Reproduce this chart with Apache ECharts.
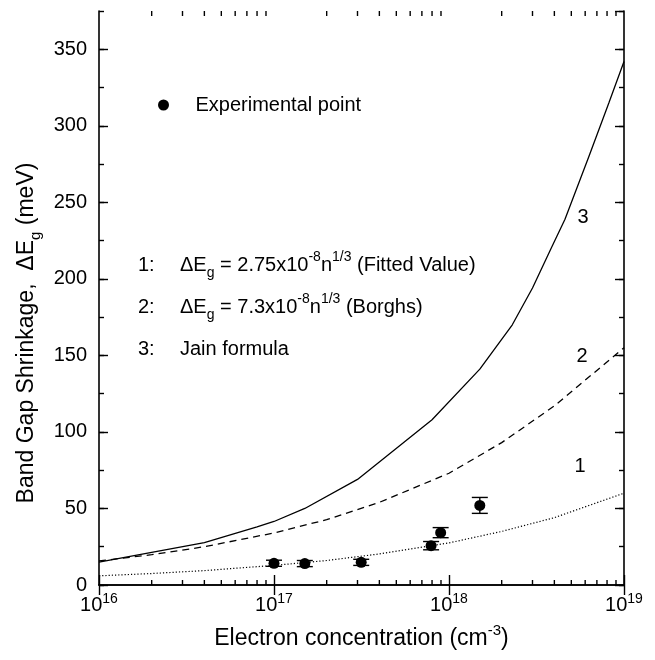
<!DOCTYPE html>
<html>
<head>
<meta charset="utf-8">
<script src="https://cdn.jsdelivr.net/npm/echarts@6/dist/echarts.min.js"></script>
<style>
  html, body { margin: 0; padding: 0; background: #fff; }
  #bgs { width: 655px; height: 660px; }
</style>
</head>
<body>
<div id="bgs"></div>
<script>
// band gap shrinkage vs electron concentration
var FONT = 'Liberation Sans';
var Y_MIN = 0, Y_MAX = 375;

// curve 1: fitted value
var fitConc = [1e16, 2e16, 4e16, 1e17, 2e17, 4e17, 1e18, 2e18, 4e18, 1e19];
var fitShrink = [6, 7.5, 9.4, 12.8, 16, 20.3, 27.5, 35, 44, 60];

// curve 2: Borghs
var borghsConc = [1e16, 2e16, 4e16, 1e17, 2e17, 4e17, 1e18, 2e18, 4e18, 1e19];
var borghsShrink = [15.7, 19.8, 25, 34, 42.7, 54, 73, 93, 117, 155];

// curve 3: Jain formula
var jainConc = [1e16, 4e16, 8e16, 1e17, 1.5e17, 3e17, 8e17, 1.5e18, 2.3e18, 3e18, 3.8e18, 4.6e18, 6.3e18, 8.2e18, 1e19];
var jainShrink = [15, 27.7, 38, 41.5, 50, 69, 108, 141, 170, 194, 219, 239, 280, 315, 342];

// experimental points with error
var expConc = [1e17, 1.5e17, 3.15e17, 7.9e17, 8.96e17, 1.5e18];
var expShrink = [14.2, 14, 14.8, 25.7, 34.2, 52];
var expErr = [2, 2, 2, 2.7, 3.3, 5.2];

// minor ticks on log axis (2..9 in every decade)
var decades = [1e16, 1e17, 1e18];
var minorX = [];
decades.forEach(function (d) {
  for (var k = 2; k <= 9; k++) minorX.push([k * d, 0]);
});

function pairs(xs, ys) {
  return xs.map(function (x, i) { return [x, ys[i]]; });
}

var chart = echarts.init(document.getElementById('bgs'));

var supRich = {
  sup: { fontSize: 14, fontFamily: FONT, color: '#000', fill: '#000', lineHeight: 14, verticalAlign: 'top' },
  sub: { fontSize: 14, fontFamily: FONT, color: '#000', fill: '#000', lineHeight: 14, verticalAlign: 'bottom' }
};

function yAx(pos, interval, len, show) {
  return {
    type: 'value',
    position: pos,
    min: Y_MIN,
    max: Y_MAX,
    interval: interval,
    axisLine: { show: show, lineStyle: { color: '#000', width: 1.6 } },
    axisTick: { inside: true, length: len, lineStyle: { color: '#000', width: 1.4 } },
    axisLabel: { show: false },
    splitLine: { show: false }
  };
}

var leftMain = yAx('left', 50, 9, true);
leftMain.axisLabel = {
  show: true, showMaxLabel: false, margin: 12,
  fontSize: 20, fontFamily: FONT, color: '#000'
};

function txt(x, y, s, align) {
  return {
    type: 'text', x: x, y: y,
    style: {
      text: s, font: '20px ' + FONT, fill: '#000', lineHeight: 30,
      textAlign: align || 'left', textVerticalAlign: 'middle', rich: supRich
    }
  };
}

var option = {
  animation: false,
  backgroundColor: '#fff',
  grid: { left: 99, right: 31, top: 11, bottom: 75 },
  legend: {
    data: ['Experimental point'],
    left: 153,
    top: 90,
    icon: 'circle',
    itemWidth: 30,
    itemHeight: 11,
    itemStyle: { color: '#000', opacity: 1 },
    textStyle: { fontSize: 20, fontFamily: FONT, color: '#000', padding: [0, 0, 0, 12] }
  },
  xAxis: [
    {
      type: 'log',
      logBase: 10,
      min: 1e16,
      max: 1e19,
      position: 'bottom',
      name: 'Electron concentration (cm{sup|-3})',
      nameLocation: 'middle',
      nameGap: 36,
      nameTextStyle: {
        fontSize: 23, fontFamily: FONT, color: '#000', lineHeight: 32,
        rich: { sup: { fontSize: 15, fontFamily: FONT, color: '#000', lineHeight: 15, verticalAlign: 'top' } }
      },
      axisLine: { lineStyle: { color: '#000', width: 1.6 } },
      axisTick: { inside: true, length: 10, lineStyle: { color: '#000', width: 1.4 } },
      axisLabel: {
        margin: 7,
        fontSize: 20, fontFamily: FONT, color: '#000', lineHeight: 26,
        formatter: function (v) {
          return '10{sup|' + Math.round(Math.log10(v)) + '}';
        },
        rich: supRich
      },
      splitLine: { show: false }
    },
    {
      type: 'log',
      logBase: 10,
      min: 1e16,
      max: 1e19,
      position: 'top',
      axisLine: { lineStyle: { color: '#000', width: 1.6 } },
      axisTick: { inside: true, length: 10, lineStyle: { color: '#000', width: 1.4 } },
      axisLabel: { show: false },
      splitLine: { show: false }
    }
  ],
  yAxis: [
    leftMain,
    yAx('left', 25, 5, false),
    yAx('right', 50, 9, true),
    yAx('right', 25, 5, false)
  ],
  graphic: [
    {
      type: 'text', x: 27, y: 333, rotation: Math.PI / 2,
      style: {
        text: 'Band Gap Shrinkage,  \u0394E{sub|g} (meV)',
        font: '23px ' + FONT, fill: '#000', lineHeight: 32,
        textAlign: 'center', textVerticalAlign: 'middle',
        rich: { sub: { fontSize: 15, fontFamily: FONT, fill: '#000', lineHeight: 15, verticalAlign: 'bottom' } }
      }
    },
    txt(138, 265, '1:'),
    txt(180, 265, '\u0394E{sub|g} = 2.75x10{sup|-8}n{sup|1/3} (Fitted Value)'),
    txt(138, 307, '2:'),
    txt(180, 307, '\u0394E{sub|g} = 7.3x10{sup|-8}n{sup|1/3} (Borghs)'),
    txt(138, 349, '3:'),
    txt(180, 349, 'Jain formula'),
    txt(583, 217, '3', 'center'),
    txt(582, 356, '2', 'center'),
    txt(580, 466, '1', 'center')
  ],
  series: [
    {
      name: '1',
      type: 'line',
      data: pairs(fitConc, fitShrink),
      symbol: 'none',
      lineStyle: { color: '#000', width: 1.2, type: [1.2, 2] }
    },
    {
      name: '2',
      type: 'line',
      data: pairs(borghsConc, borghsShrink),
      symbol: 'none',
      lineStyle: { color: '#000', width: 1.3, type: [7, 5] }
    },
    {
      name: '3',
      type: 'line',
      data: pairs(jainConc, jainShrink),
      symbol: 'none',
      lineStyle: { color: '#000', width: 1.3 }
    },
    {
      name: 'error',
      type: 'custom',
      silent: true,
      data: expConc.map(function (x, i) { return [x, expShrink[i], expErr[i]]; }),
      encode: { x: 0, y: 1 },
      renderItem: function (params, api) {
        var x = api.value(0), y = api.value(1), e = api.value(2);
        var lo = api.coord([x, y - e]);
        var hi = api.coord([x, y + e]);
        var w = 8;
        var st = { stroke: '#000', lineWidth: 1.4 };
        return {
          type: 'group',
          children: [
            { type: 'line', shape: { x1: lo[0], y1: lo[1], x2: hi[0], y2: hi[1] }, style: st },
            { type: 'line', shape: { x1: lo[0] - w, y1: lo[1], x2: lo[0] + w, y2: lo[1] }, style: st },
            { type: 'line', shape: { x1: hi[0] - w, y1: hi[1], x2: hi[0] + w, y2: hi[1] }, style: st }
          ]
        };
      }
    },
    {
      name: 'Experimental point',
      type: 'scatter',
      data: pairs(expConc, expShrink),
      symbol: 'circle',
      symbolSize: 11,
      itemStyle: { color: '#000', opacity: 1 }
    },
    {
      name: 'minor',
      type: 'custom',
      silent: true,
      clip: false,
      data: minorX,
      encode: { x: 0, y: 1 },
      renderItem: function (params, api) {
        var v = api.value(0);
        var b = api.coord([v, Y_MIN]);
        var t = api.coord([v, Y_MAX]);
        var st = { stroke: '#000', lineWidth: 1.4 };
        return {
          type: 'group',
          children: [
            { type: 'line', shape: { x1: b[0], y1: b[1], x2: b[0], y2: b[1] - 5 }, style: st },
            { type: 'line', shape: { x1: t[0], y1: t[1], x2: t[0], y2: t[1] + 5 }, style: st }
          ]
        };
      }
    }
  ]
};

chart.setOption(option);
</script>
</body>
</html>
